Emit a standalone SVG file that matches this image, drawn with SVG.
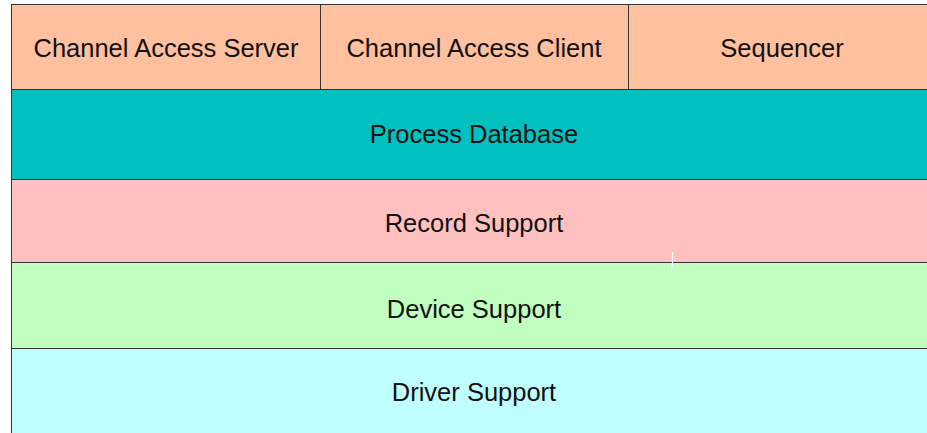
<svg xmlns="http://www.w3.org/2000/svg" width="927" height="433" viewBox="0 0 927 433">
  <style>
    .box { stroke: #333; stroke-width: 1; }
    .lbl { font-family: "Liberation Sans", Arial, sans-serif; font-size: 25.5px; fill: #111; text-anchor: middle; }
  </style>
  <rect width="927" height="433" fill="#ffffff"/>
  <g id="ca-server">
    <rect class="box" x="11.5" y="4.5" width="309" height="85" fill="#ffc09f"/>
    <text class="lbl" x="166" y="57">Channel Access Server</text>
  </g>
  <g id="ca-client">
    <rect class="box" x="320.5" y="4.5" width="308" height="85" fill="#ffc09f"/>
    <text class="lbl" x="474" y="57">Channel Access Client</text>
  </g>
  <g id="sequencer">
    <rect class="box" x="628.5" y="4.5" width="310" height="85" fill="#ffc09f"/>
    <text class="lbl" x="782" y="57">Sequencer</text>
  </g>
  <g id="process-database">
    <rect class="box" x="11.5" y="89.5" width="927" height="90" fill="#00c0c0"/>
    <text class="lbl" x="474" y="143">Process Database</text>
  </g>
  <g id="record-support">
    <rect class="box" x="11.5" y="179.5" width="927" height="83" fill="#ffc0c0"/>
    <text class="lbl" x="474" y="232">Record Support</text>
  </g>
  <g id="device-support">
    <rect class="box" x="11.5" y="262.5" width="927" height="86" fill="#c0ffc0"/>
    <text class="lbl" x="474" y="318">Device Support</text>
  </g>
  <g id="driver-support">
    <rect class="box" x="11.5" y="348.5" width="927" height="100" fill="#c0ffff"/>
    <text class="lbl" x="474" y="401">Driver Support</text>
  </g>
  <g id="connectors"></g>
  <path d="M672.5 252 L672.5 264 L671 270" fill="none" stroke="#ffffff" stroke-width="1.2"/>
</svg>
